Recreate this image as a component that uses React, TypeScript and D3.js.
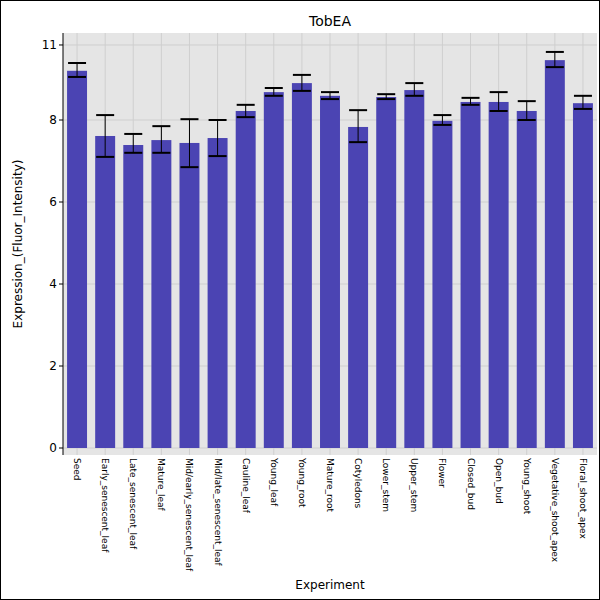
import React from "react";
import * as d3 from "d3";

const categories = ["Seed","Early_senescent_leaf","Late_senescent_leaf","Mature_leaf","Mid/early_senescent_leaf","Mid/late_senescent_leaf","Cauline_leaf","Young_leaf","Young_root","Mature_root","Cotyledons","Lower_stem","Upper_stem","Flower","Closed_bud","Open_bud","Young_shoot","Vegetative_shoot_apex","Floral_shoot_apex"];
const means = [9.2,7.61,7.39,7.51,7.44,7.56,8.22,8.68,8.9,8.59,7.83,8.56,8.73,7.98,8.44,8.44,8.22,9.46,8.41];
const errHi = [9.39,8.12,7.66,7.85,8.02,8.0,8.37,8.78,9.1,8.68,8.24,8.63,8.9,8.12,8.54,8.68,8.46,9.66,8.59];
const errLo = [9.05,7.1,7.2,7.2,6.85,7.12,8.07,8.59,8.71,8.51,7.46,8.51,8.59,7.88,8.37,8.22,8.0,9.29,8.27];
const yTicks = [0,2,4,6,8];
const topTick = { value: 9.83, label: "11" };

const W = 600, H = 600;
const L = 63, R = 597, T = 33, B = 455;

export default function App() {
  const x = d3.scaleBand<string>().domain(categories).range([L, R]).paddingInner(0.29).paddingOuter(0.145);
  const y = d3.scaleLinear().domain([0, 8]).range([448, 120]);
  const bw = x.bandwidth();
  const ticks = [...yTicks.map(v => ({ value: v, label: String(v) })), topTick];
  return (
    <svg width={W} height={H} style={{ display: "block", position: "absolute", left: 0, top: 0 }} fontFamily="DejaVu Sans">
      <rect x={0.5} y={0.5} width={W - 1} height={H - 1} fill="white" stroke="black" />
      <text x={(L + R) / 2} y={26} textAnchor="middle" fontSize={14}>TobEA</text>
      <rect x={L} y={T} width={R - L} height={B - T} fill="#e5e5e5" />
      {categories.map(c => (
        <line key={c} x1={x(c)! + bw / 2} x2={x(c)! + bw / 2} y1={T} y2={B} stroke="#cfcfcf" />
      ))}
      {ticks.map(t => (
        <g key={t.label}>
          <line x1={L} x2={R} y1={y(t.value)} y2={y(t.value)} stroke="#cfcfcf" />
          <line x1={L - 4} x2={L} y1={y(t.value)} y2={y(t.value)} stroke="black" />
          <text x={L - 6} y={y(t.value) + 4} textAnchor="end" fontSize={12}>{t.label}</text>
        </g>
      ))}
      {categories.map((c, i) => {
        const cx = x(c)! + bw / 2;
        return (
          <g key={c}>
            <rect x={x(c)} y={y(means[i])} width={bw} height={y(0) - y(means[i])} fill="#4b44b3" />
            <line x1={cx} x2={cx} y1={y(errHi[i])} y2={y(errLo[i])} stroke="black" />
            <line x1={cx - 9} x2={cx + 9} y1={y(errHi[i])} y2={y(errHi[i])} stroke="black" strokeWidth={2} />
            <line x1={cx - 9} x2={cx + 9} y1={y(errLo[i])} y2={y(errLo[i])} stroke="black" strokeWidth={2} />
            <text transform={`translate(${cx - 3},${B + 3}) rotate(90)`} fontSize={9}>{c}</text>
          </g>
        );
      })}
      <line x1={L} x2={L} y1={T} y2={B} stroke="black" />
      <text x={(L + R) / 2} y={589} textAnchor="middle" fontSize={12}>Experiment</text>
      <text transform={`translate(22,${(T + B) / 2}) rotate(-90)`} textAnchor="middle" fontSize={12}>Expression_(Fluor_Intensity)</text>
    </svg>
  );
}
